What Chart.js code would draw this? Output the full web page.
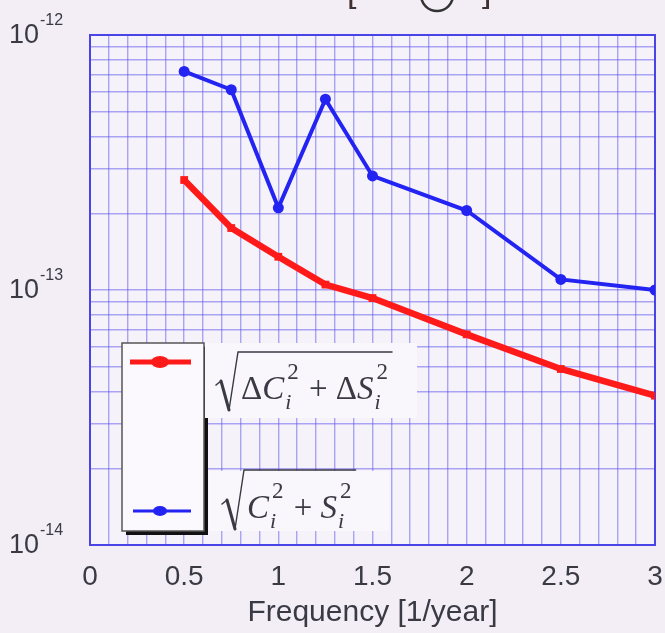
<!DOCTYPE html>
<html>
<head>
<meta charset="utf-8">
<script src="https://cdn.jsdelivr.net/npm/chart.js@4.4.1/dist/chart.umd.min.js"></script>
<style>
  html, body { margin: 0; padding: 0; background: #f3eef6; }
  #wrap { width: 665px; height: 633px; position: relative; }
</style>
</head>
<body>
<div id="wrap"><canvas id="spectrum"></canvas></div>
<script>
// frequencies of the fitted terms [1/year]
const frequencies = [0.5, 0.75, 1, 1.25, 1.5, 2, 2.5, 3];
// sqrt(C^2 + S^2)
const amplitude = [7.2e-13, 6.1e-13, 2.1e-13, 5.6e-13, 2.8e-13, 2.05e-13, 1.1e-13, 1.0e-13];
// sqrt(dC^2 + dS^2)
const uncertainty = [2.7e-13, 1.75e-13, 1.35e-13, 1.05e-13, 9.3e-14, 6.7e-14, 4.9e-14, 3.85e-14];
// axis labels
const xLabels = [0, 0.5, 1, 1.5, 2, 2.5, 3];
const yDecades = [-14, -13, -12];

const RED = '#ff1a1a';
const BLUE = '#2323f2';
const INK = '#3a3a44';
const SANS = '"Liberation Sans", Arial, sans-serif';
const SERIF = '"Liberation Serif", "Times New Roman", serif';

// log grid: 1..9 per decade
const yGrid = [];
yDecades.forEach((e, k) => {
  const last = k === yDecades.length - 1;
  for (let m = 1; m <= (last ? 1 : 9); m++) yGrid.push(m * Math.pow(10, e));
});

function pts(ys) {
  return frequencies.map((f, i) => ({ x: f, y: ys[i] }));
}

// sqrt sign with overline, then the terms under it
function drawRoot(ctx, x, base, top, size, parts) {
  let cx = x + 25;
  ctx.fillStyle = INK;
  ctx.textBaseline = 'alphabetic';
  for (const p of parts) {
    if (p.sub !== undefined) {
      ctx.font = 'italic ' + Math.round(size * 0.66) + 'px ' + SERIF;
      const w1 = ctx.measureText(p.sub).width;
      ctx.fillText(p.sub, cx + 1, base + size * 0.3);
      ctx.font = Math.round(size * 0.7) + 'px ' + SERIF;
      const w2 = ctx.measureText(p.sup).width;
      ctx.fillText(p.sup, cx + 3, base - size * 0.62);
      cx += Math.max(w1 + 1, w2 + 3) + 2;
    } else {
      ctx.font = (p.it ? 'italic ' : '') + size + 'px ' + SERIF;
      ctx.fillText(p.t, cx, base);
      cx += ctx.measureText(p.t).width;
    }
  }
  ctx.strokeStyle = INK;
  ctx.lineCap = 'round';
  ctx.lineWidth = 1.6;
  ctx.beginPath();
  ctx.moveTo(x, base - 14);
  ctx.lineTo(x + 5, base - 18);
  ctx.stroke();
  ctx.lineWidth = 3;
  ctx.beginPath();
  ctx.moveTo(x + 5, base - 18);
  ctx.lineTo(x + 13, base + 11);
  ctx.stroke();
  ctx.lineWidth = 1.4;
  ctx.beginPath();
  ctx.moveTo(x + 13, base + 11);
  ctx.lineTo(x + 22, top);
  ctx.lineTo(cx + 2, top);
  ctx.stroke();
}

const decor = {
  id: 'decor',
  beforeDraw(chart) {
    const { ctx, chartArea: a } = chart;
    ctx.save();
    ctx.fillStyle = '#f3eef6';
    ctx.fillRect(0, 0, chart.width, chart.height);
    ctx.fillStyle = '#f6f2fa';
    ctx.fillRect(a.left, a.top, a.right - a.left, a.bottom - a.top);
    ctx.restore();
  },
  beforeDatasetsDraw(chart) {
    const { ctx, chartArea: a } = chart;
    ctx.save();
    ctx.strokeStyle = '#4a44e6';
    ctx.lineWidth = 2;
    ctx.strokeRect(a.left, a.top, a.right - a.left, a.bottom - a.top);
    ctx.restore();
  },
  afterDraw(chart) {
    const { ctx } = chart;
    const ys = chart.scales.y;
    ctx.save();

    // y decade labels 10^n
    ctx.fillStyle = INK;
    ctx.textBaseline = 'middle';
    yDecades.forEach(e => {
      const py = ys.getPixelForValue(Math.pow(10, e));
      ctx.font = '27px ' + SANS;
      ctx.fillText('10', 9, py + 1);
      ctx.font = '16px ' + SANS;
      ctx.fillText(String(e), 40, py - 14);
    });

    // header, cut off at the top edge
    ctx.fillStyle = '#403030';
    ctx.font = '34px ' + SANS;
    ctx.textBaseline = 'alphabetic';
    ctx.fillText('[', 347, 2);
    ctx.fillText(']', 482, 2);
    ctx.strokeStyle = '#333';
    ctx.lineWidth = 2.5;
    ctx.beginPath();
    ctx.arc(437, -5, 16, 0, Math.PI);
    ctx.stroke();

    // legend box with drop shadow
    ctx.fillStyle = '#111';
    ctx.fillRect(126, 347, 82, 188);
    ctx.fillStyle = '#fbf9fd';
    ctx.fillRect(122, 343, 82, 188);
    ctx.strokeStyle = '#555';
    ctx.lineWidth = 1.5;
    ctx.strokeRect(122, 343, 82, 188);
    // label panels
    ctx.fillStyle = '#f9f6fc';
    ctx.fillRect(205, 343, 212, 75);
    ctx.fillRect(209, 471, 180, 60);

    // samples
    ctx.strokeStyle = RED;
    ctx.lineWidth = 5;
    ctx.beginPath();
    ctx.moveTo(130, 362);
    ctx.lineTo(191, 362);
    ctx.stroke();
    ctx.fillStyle = RED;
    ctx.beginPath();
    ctx.ellipse(160, 362, 9, 6, 0, 0, Math.PI * 2);
    ctx.fill();
    ctx.strokeStyle = BLUE;
    ctx.lineWidth = 3;
    ctx.beginPath();
    ctx.moveTo(133, 511);
    ctx.lineTo(191, 511);
    ctx.stroke();
    ctx.fillStyle = BLUE;
    ctx.beginPath();
    ctx.ellipse(160, 511, 7, 5, 0, 0, Math.PI * 2);
    ctx.fill();

    drawRoot(ctx, 216, 399, 352, 33, [
      { t: 'Δ' }, { t: 'C', it: true }, { sub: 'i', sup: '2' },
      { t: ' + ' }, { t: 'Δ' }, { t: 'S', it: true }, { sub: 'i', sup: '2' }
    ]);
    drawRoot(ctx, 222, 518, 470, 33, [
      { t: 'C', it: true }, { sub: 'i', sup: '2' },
      { t: ' + ' }, { t: 'S', it: true }, { sub: 'i', sup: '2' }
    ]);
    ctx.restore();
  }
};

new Chart(document.getElementById('spectrum'), {
  type: 'line',
  data: {
    datasets: [
      {
        label: 'sqrt(dC^2 + dS^2)',
        data: pts(uncertainty),
        borderColor: RED,
        backgroundColor: RED,
        borderWidth: 6.5,
        pointStyle: 'rect',
        pointRadius: 5.5,
        pointBorderWidth: 0
      },
      {
        label: 'sqrt(C^2 + S^2)',
        data: pts(amplitude),
        borderColor: BLUE,
        backgroundColor: BLUE,
        borderWidth: 4,
        pointRadius: 5.5,
        pointBorderWidth: 0
      }
    ]
  },
  options: {
    responsive: true,
    maintainAspectRatio: false,
    animation: false,
    layout: { padding: { top: 35, right: 10, left: 0, bottom: 0 } },
    plugins: { legend: { display: false }, tooltip: { enabled: false } },
    scales: {
      x: {
        type: 'linear',
        min: 0,
        max: 3,
        afterFit: s => { s.height = 88; s.paddingLeft = 0; s.paddingRight = 0; },
        grid: { color: 'rgba(92,84,236,0.5)', lineWidth: 1.4, drawTicks: false },
        border: { display: false },
        ticks: {
          stepSize: 0.1,
          autoSkip: false,
          maxRotation: 0,
          padding: 15,
          color: INK,
          font: { family: SANS, size: 28 },
          callback: v => {
            const hit = xLabels.find(l => Math.abs(l - v) < 1e-6);
            return hit === undefined ? '' : String(hit);
          }
        },
        title: {
          display: true,
          text: 'Frequency [1/year]',
          color: INK,
          font: { family: SANS, size: 30 },
          padding: { top: 0, bottom: 2 }
        }
      },
      y: {
        type: 'logarithmic',
        min: 1e-14,
        max: 1e-12,
        afterFit: s => { s.width = 90; },
        afterBuildTicks: s => { s.ticks = yGrid.map(v => ({ value: v })); },
        grid: { color: 'rgba(92,84,236,0.5)', lineWidth: 1.4, drawTicks: false },
        border: { display: false },
        ticks: { display: false }
      }
    }
  },
  plugins: [decor]
});
</script>
</body>
</html>
